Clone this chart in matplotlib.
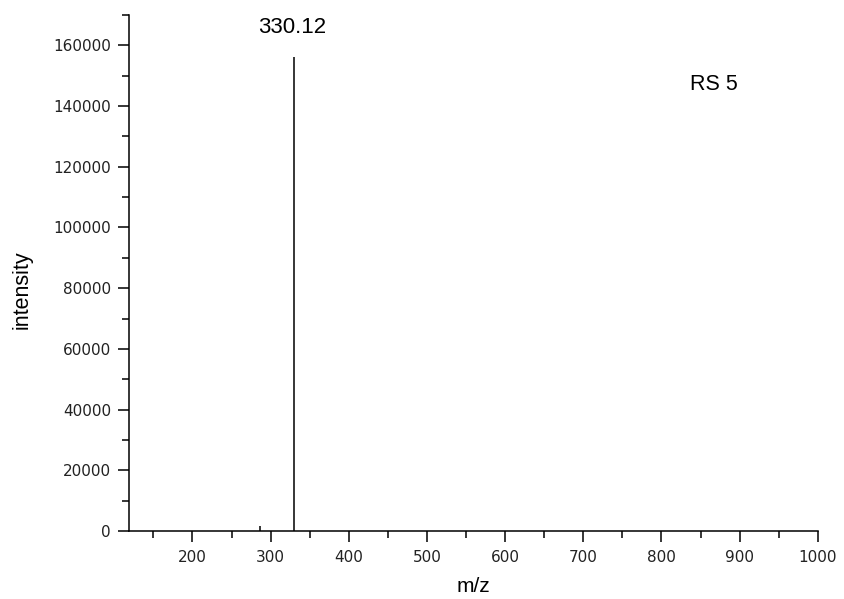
import numpy as np
import matplotlib.pyplot as plt
from matplotlib.ticker import MultipleLocator

plt.rcParams['font.family'] = ['Liberation Sans', 'DejaVu Sans']

# peak list
mz = [287.0, 330.12]
intensity = [1650, 156100]
peak_label = '330.12'
sample_name = 'RS 5'

fig = plt.figure(figsize=(8.44, 5.99), dpi=100)
ax = fig.add_axes([0.153, 0.1135, 0.816, 0.8615])

ax.vlines(mz, 0, intensity, colors='black', linewidth=1.1)

ax.set_xlim(119, 1000)
ax.set_ylim(0, 170000)
ax.xaxis.set_major_locator(MultipleLocator(100))
ax.xaxis.set_minor_locator(MultipleLocator(50))
ax.yaxis.set_major_locator(MultipleLocator(20000))
ax.yaxis.set_minor_locator(MultipleLocator(10000))
ax.set_xticks([200, 300, 400, 500, 600, 700, 800, 900, 1000])

for side in ['top', 'right']:
    ax.spines[side].set_visible(False)
for side in ['left', 'bottom']:
    ax.spines[side].set_linewidth(1.1)
ax.tick_params(which='major', direction='out', length=8, width=1.1, labelsize=11,
               labelcolor='#222222')
ax.tick_params(axis='x', which='major', pad=6)
ax.tick_params(axis='y', which='major', pad=5)
ax.tick_params(which='minor', direction='out', length=5, width=1.1)
for lab in ax.get_xticklabels() + ax.get_yticklabels():
    lab.set_family('DejaVu Sans')

ax.set_ylabel('intensity', fontsize=15.5, va='center')
ax.yaxis.set_label_coords(-0.155, 0.467)
# the reference crops m/z at the bottom edge; keep it just inside the figure
ax.set_xlabel('m/z', fontsize=15, va='top')
ax.xaxis.set_label_coords(0.5, -0.09)

ax.text(mz[1] - 2, 164200, peak_label, ha='center', va='baseline', fontsize=16)
ax.text(0.814, 0.855, sample_name, transform=ax.transAxes, ha='left', va='baseline',
        fontsize=15.5)

plt.savefig('out.png', dpi=100)
